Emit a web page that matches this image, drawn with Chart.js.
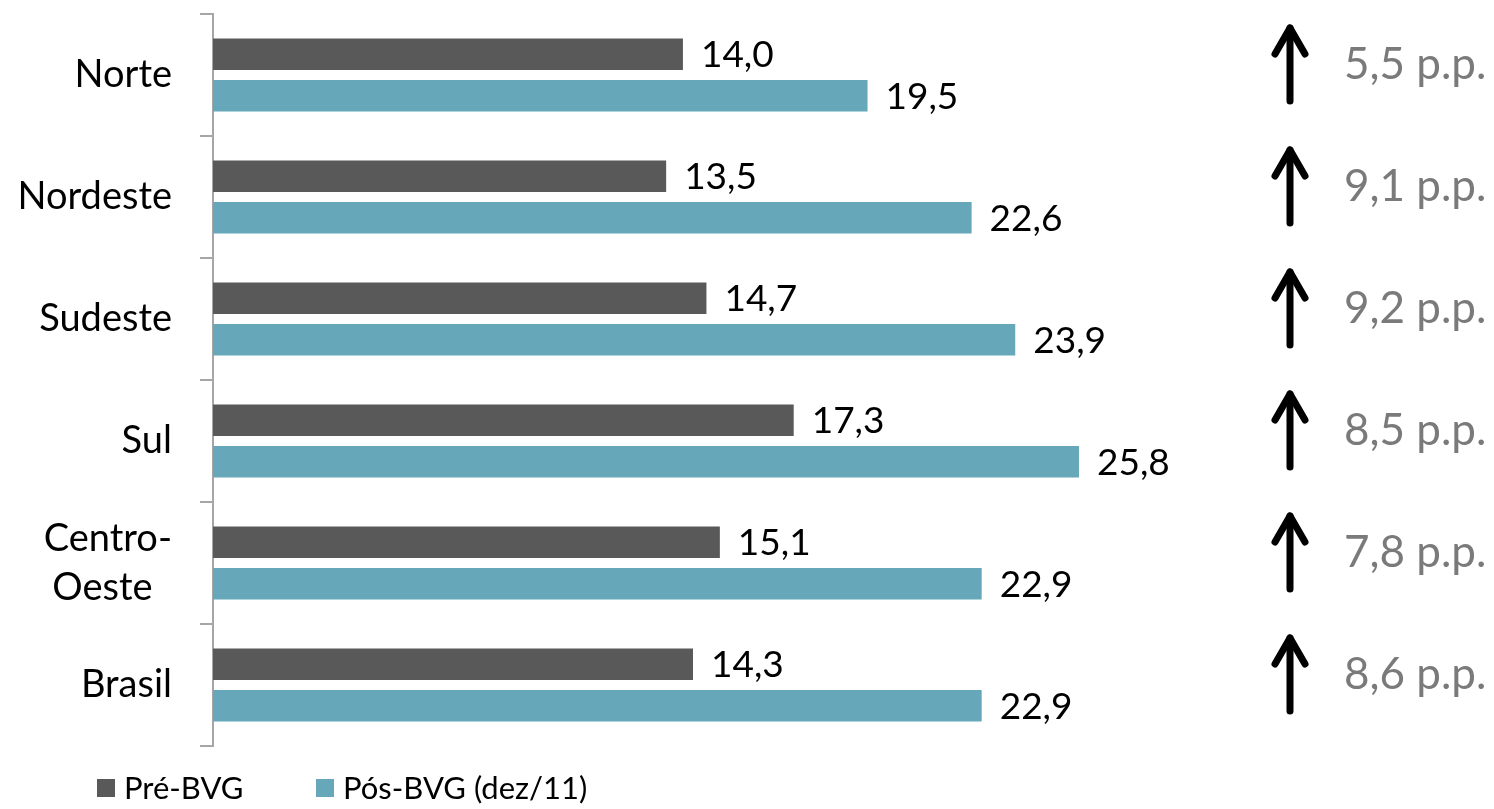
<!DOCTYPE html>
<html>
<head>
<meta charset="utf-8">
<script src="https://cdn.jsdelivr.net/npm/chart.js@4/dist/chart.umd.min.js"></script>
<style>
  html, body { margin: 0; padding: 0; background: #ffffff; }
  #wrap { width: 1494px; height: 809px; position: relative; }
</style>
</head>
<body>
<div id="wrap"><canvas id="c"></canvas></div>
<script>
const categories = ['Norte', 'Nordeste', 'Sudeste', 'Sul', ['Centro-', 'Oeste  '], 'Brasil'];
const preBVG = [14.0, 13.5, 14.7, 17.3, 15.1, 14.3];
const posBVG = [19.5, 22.6, 23.9, 25.8, 22.9, 22.9];
const seriesNames = ['Pré-BVG', 'Pós-BVG (dez/11)'];
const ppLabels = ['5,5 p.p.', '9,1 p.p.', '9,2 p.p.', '8,5 p.p.', '7,8 p.p.', '8,6 p.p.'];

const FONT = 'Lato, "Open Sans", sans-serif';
const DARK = '#595959';
const TEAL = '#66a8b9';

const dataLabels = {
  id: 'dataLabels',
  afterDatasetsDraw(chart) {
    const ctx = chart.ctx;
    ctx.save();
    ctx.font = '37px ' + FONT;
    ctx.fillStyle = '#000000';
    ctx.textAlign = 'left';
    ctx.textBaseline = 'middle';
    chart.data.datasets.forEach((ds, di) => {
      const meta = chart.getDatasetMeta(di);
      meta.data.forEach((bar, i) => {
        const txt = ds.data[i].toFixed(1).replace('.', ',');
        ctx.fillText(txt, bar.x + 18, bar.y + 1);
      });
    });
    ctx.restore();
  }
};

const arrows = {
  id: 'arrows',
  afterDraw(chart) {
    const ctx = chart.ctx;
    const ys = chart.scales.y;
    ctx.save();
    ppLabels.forEach((lab, i) => {
      const cy = ys.getPixelForValue(i) - 12;
      const x = 1290;
      const top = cy - 38, bot = cy + 38;
      ctx.strokeStyle = '#000000';
      ctx.lineWidth = 7;
      ctx.lineCap = 'round';
      ctx.lineJoin = 'round';
      ctx.beginPath();
      ctx.moveTo(x, bot);
      ctx.lineTo(x, top + 3);
      ctx.stroke();
      ctx.beginPath();
      ctx.moveTo(x - 15, top + 29);
      ctx.lineTo(x, top + 3);
      ctx.lineTo(x + 15, top + 29);
      ctx.stroke();
      ctx.font = '44px ' + FONT;
      ctx.fillStyle = '#7a7a7a';
      ctx.textAlign = 'left';
      ctx.textBaseline = 'middle';
      ctx.fillText(lab, 1344, cy + 2);
    });
    ctx.restore();
  }
};

const customLegend = {
  id: 'customLegend',
  afterDraw(chart) {
    const ctx = chart.ctx;
    ctx.save();
    ctx.font = '31px ' + FONT;
    ctx.textAlign = 'left';
    ctx.textBaseline = 'middle';
    const starts = [97, 316];
    chart.data.datasets.forEach((ds, di) => {
      const x = starts[di];
      const cy = 788;
      ctx.fillStyle = ds.backgroundColor;
      ctx.fillRect(x, cy - 9, 18, 18);
      ctx.fillStyle = '#000000';
      ctx.fillText(ds.label, x + 27, cy + 1);
    });
    ctx.restore();
  }
};

new Chart(document.getElementById('c'), {
  type: 'bar',
  data: {
    labels: categories,
    datasets: [
      { label: seriesNames[0], data: preBVG, backgroundColor: DARK, categoryPercentage: 0.68, barPercentage: 0.76 },
      { label: seriesNames[1], data: posBVG, backgroundColor: TEAL, categoryPercentage: 0.68, barPercentage: 0.76 }
    ]
  },
  options: {
    indexAxis: 'y',
    responsive: true,
    maintainAspectRatio: false,
    animation: false,
    layout: { padding: { top: 14, bottom: 63, left: 0, right: 274 } },
    plugins: { legend: { display: false }, tooltip: { enabled: false } },
    scales: {
      x: { display: false, min: 0, max: 30 },
      y: {
        afterFit(scale) { scale.width = 213; scale.paddingTop = 0; scale.paddingBottom = 0; },
        grid: { drawOnChartArea: false, drawTicks: true, tickLength: 13, color: '#a6a6a6', lineWidth: 2, offset: true },
        border: { display: true, color: '#a6a6a6', width: 2 },
        ticks: { color: '#000000', padding: 28, font: { family: FONT, size: 38, lineHeight: 1.3 } }
      }
    }
  },
  plugins: [dataLabels, arrows, customLegend]
});
</script>
</body>
</html>
